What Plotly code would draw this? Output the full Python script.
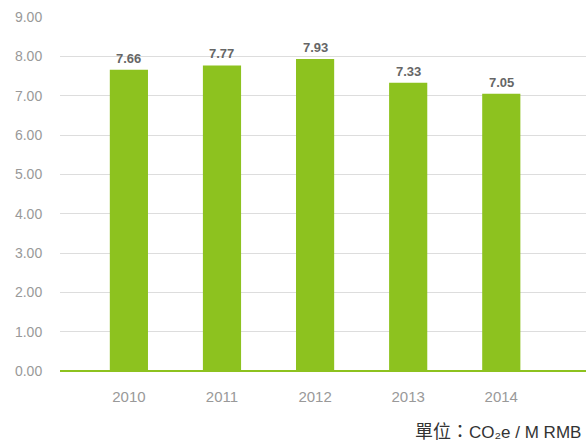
import plotly.graph_objects as go

years = ["2010", "2011", "2012", "2013", "2014"]
values = [7.66, 7.77, 7.93, 7.33, 7.05]
y_ticks = [0, 1, 2, 3, 4, 5, 6, 7, 8, 9]

green = "#8DC21F"
font_family = "Liberation Sans, Arial, Helvetica, sans-serif"

xs = list(range(len(years)))

fig = go.Figure()
fig.add_trace(go.Bar(
    x=xs,
    y=values,
    width=0.41,
    marker=dict(color=green, line=dict(width=0)),
    hoverinfo="x+y",
))

annotations = [
    dict(
        x=xi, y=v, xref="x", yref="y",
        text=f"<b>{v:.2f}</b>",
        showarrow=False, yanchor="bottom", yshift=2,
        font=dict(family=font_family, size=13, color="#666666"),
    )
    for xi, v in zip(xs, values)
]
annotations.append(dict(
    text="<span style='font-size:18px'>單位：</span>CO₂e / M RMB",
    xref="paper", yref="paper",
    x=1.0, y=0, xanchor="right", yanchor="middle",
    yshift=-61, xshift=-3,
    showarrow=False,
    font=dict(family="Liberation Sans, DejaVu Sans, Noto Sans CJK TC, sans-serif", size=17, color="#333333"),
))

fig.update_layout(
    width=586, height=443,
    margin=dict(l=60, r=0, t=17, b=72),
    paper_bgcolor="white", plot_bgcolor="white",
    showlegend=False,
    font=dict(family=font_family, color="#999999", size=14),
    xaxis=dict(
        range=[-0.74, 4.91],
        tickmode="array",
        tickvals=xs,
        ticktext=years,
        showgrid=False, zeroline=False, showline=False,
        ticks="outside", ticklen=12, tickcolor="rgba(0,0,0,0)",
        tickfont=dict(size=15, color="#999999"),
        fixedrange=True,
    ),
    yaxis=dict(
        range=[0, 9],
        tickvals=y_ticks,
        tickformat=".2f",
        showgrid=True, gridcolor="#DDDDDD", gridwidth=1,
        zeroline=True, zerolinecolor=green, zerolinewidth=2,
        showline=False,
        ticks="outside", ticklen=14, tickcolor="rgba(0,0,0,0)",
        tickfont=dict(size=14, color="#999999"),
        fixedrange=True,
    ),
    annotations=annotations,
)

fig.write_html(
    "out.html",
    config={"displayModeBar": False},
    post_script="document.body.style.margin='0';document.body.style.padding='0';",
)
